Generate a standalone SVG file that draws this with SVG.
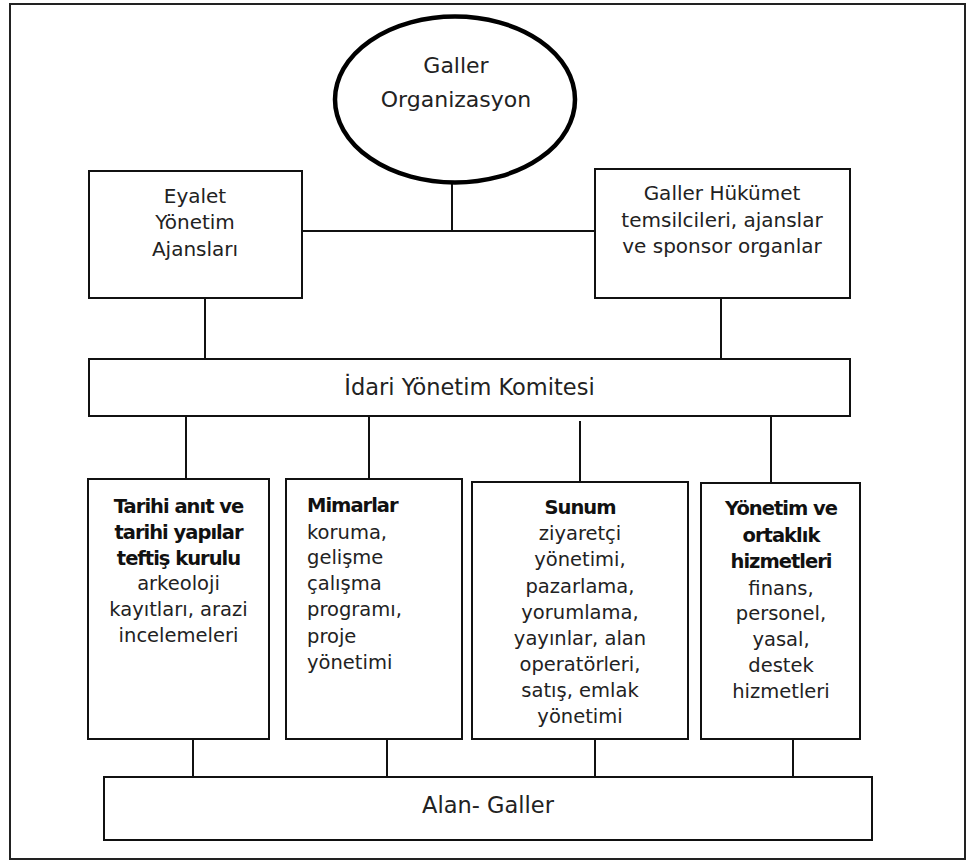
<svg xmlns="http://www.w3.org/2000/svg" width="968" height="862" viewBox="0 0 968 862">
  <style>
    .box { fill: #fff; stroke: #111; stroke-width: 2; }
    .oval { fill: #fff; stroke: #000; stroke-width: 4.5; }
    .frame { fill: none; stroke: #222; stroke-width: 2; }
    .link { stroke: #111; stroke-width: 2; fill: none; }
    text { font-family: "DejaVu Sans", "Liberation Sans", sans-serif; font-size: 20px; fill: #222; }
    .c { text-anchor: middle; }
    .s { font-size: 19.5px; }
    .l { font-size: 22.5px; }
    .b { font-weight: bold; letter-spacing: -1px; fill: #111; }
  </style>

  <rect class="frame" x="10" y="4" width="955" height="855"/>

  <g id="connectors">
    <line class="link" x1="452" y1="182" x2="452" y2="231"/>
    <line class="link" x1="302" y1="231" x2="595" y2="231"/>
    <line class="link" x1="205" y1="298" x2="205" y2="359"/>
    <line class="link" x1="721" y1="298" x2="721" y2="359"/>
    <line class="link" x1="186" y1="416" x2="186" y2="479"/>
    <line class="link" x1="369" y1="416" x2="369" y2="479"/>
    <line class="link" x1="580" y1="421" x2="580" y2="482"/>
    <line class="link" x1="771" y1="416" x2="771" y2="483"/>
    <line class="link" x1="193" y1="739" x2="193" y2="777"/>
    <line class="link" x1="387" y1="739" x2="387" y2="777"/>
    <line class="link" x1="595" y1="739" x2="595" y2="777"/>
    <line class="link" x1="793" y1="739" x2="793" y2="777"/>
  </g>

  <g id="galler-organizasyon">
    <ellipse class="oval" cx="455" cy="99.5" rx="120" ry="83"/>
    <text class="c l" x="456" y="73" style="font-size:22px">Galler</text>
    <text class="c l" x="456" y="107" style="font-size:22px">Organizasyon</text>
  </g>

  <g id="eyalet">
    <rect class="box" x="89" y="171" width="213" height="127"/>
    <text class="c" x="195" y="203">Eyalet</text>
    <text class="c" x="195" y="229">Yönetim</text>
    <text class="c" x="195" y="256">Ajansları</text>
  </g>

  <g id="hukumet">
    <rect class="box" x="595" y="169" width="255" height="129"/>
    <text class="c" x="722" y="200">Galler Hükümet</text>
    <text class="c" x="722" y="227">temsilcileri, ajanslar</text>
    <text class="c" x="722" y="253">ve sponsor organlar</text>
  </g>

  <g id="idari">
    <rect class="box" x="89" y="359" width="761" height="57"/>
    <text class="c l" x="469.5" y="395">İdari Yönetim Komitesi</text>
  </g>

  <g id="tarihi">
    <rect class="box" x="88" y="479" width="181" height="260"/>
    <text class="c s b" x="178.5" y="513">Tarihi anıt ve</text>
    <text class="c s b" x="178.5" y="538.5">tarihi yapılar</text>
    <text class="c s b" x="178.5" y="564.5">teftiş kurulu</text>
    <text class="c s" x="178.5" y="590">arkeoloji</text>
    <text class="c s" x="178.5" y="616">kayıtları, arazi</text>
    <text class="c s" x="178.5" y="642">incelemeleri</text>
  </g>

  <g id="mimarlar">
    <rect class="box" x="286" y="479" width="176" height="260"/>
    <text class="s b" x="307" y="512">Mimarlar</text>
    <text class="s" x="307" y="538.5">koruma,</text>
    <text class="s" x="307" y="564">gelişme</text>
    <text class="s" x="307" y="590">çalışma</text>
    <text class="s" x="307" y="616">programı,</text>
    <text class="s" x="307" y="642.5">proje</text>
    <text class="s" x="307" y="668.5">yönetimi</text>
  </g>

  <g id="sunum">
    <rect class="box" x="472" y="482" width="216" height="257"/>
    <text class="c s b" x="580" y="514">Sunum</text>
    <text class="c s" x="580" y="540">ziyaretçi</text>
    <text class="c s" x="580" y="566">yönetimi,</text>
    <text class="c s" x="580" y="592.5">pazarlama,</text>
    <text class="c s" x="580" y="618.5">yorumlama,</text>
    <text class="c s" x="580" y="645">yayınlar, alan</text>
    <text class="c s" x="580" y="670.5">operatörleri,</text>
    <text class="c s" x="580" y="696.5">satış, emlak</text>
    <text class="c s" x="580" y="723">yönetimi</text>
  </g>

  <g id="yonetim-ortaklik">
    <rect class="box" x="701" y="483" width="159" height="256"/>
    <text class="c s b" x="781" y="515">Yönetim ve</text>
    <text class="c s b" x="781" y="541.5">ortaklık</text>
    <text class="c s b" x="781" y="568">hizmetleri</text>
    <text class="c s" x="781" y="595">finans,</text>
    <text class="c s" x="781" y="620">personel,</text>
    <text class="c s" x="781" y="646">yasal,</text>
    <text class="c s" x="781" y="672">destek</text>
    <text class="c s" x="781" y="698">hizmetleri</text>
  </g>

  <g id="alan-galler">
    <rect class="box" x="104" y="777" width="768" height="63"/>
    <text class="c l" x="488" y="813">Alan- Galler</text>
  </g>
</svg>
